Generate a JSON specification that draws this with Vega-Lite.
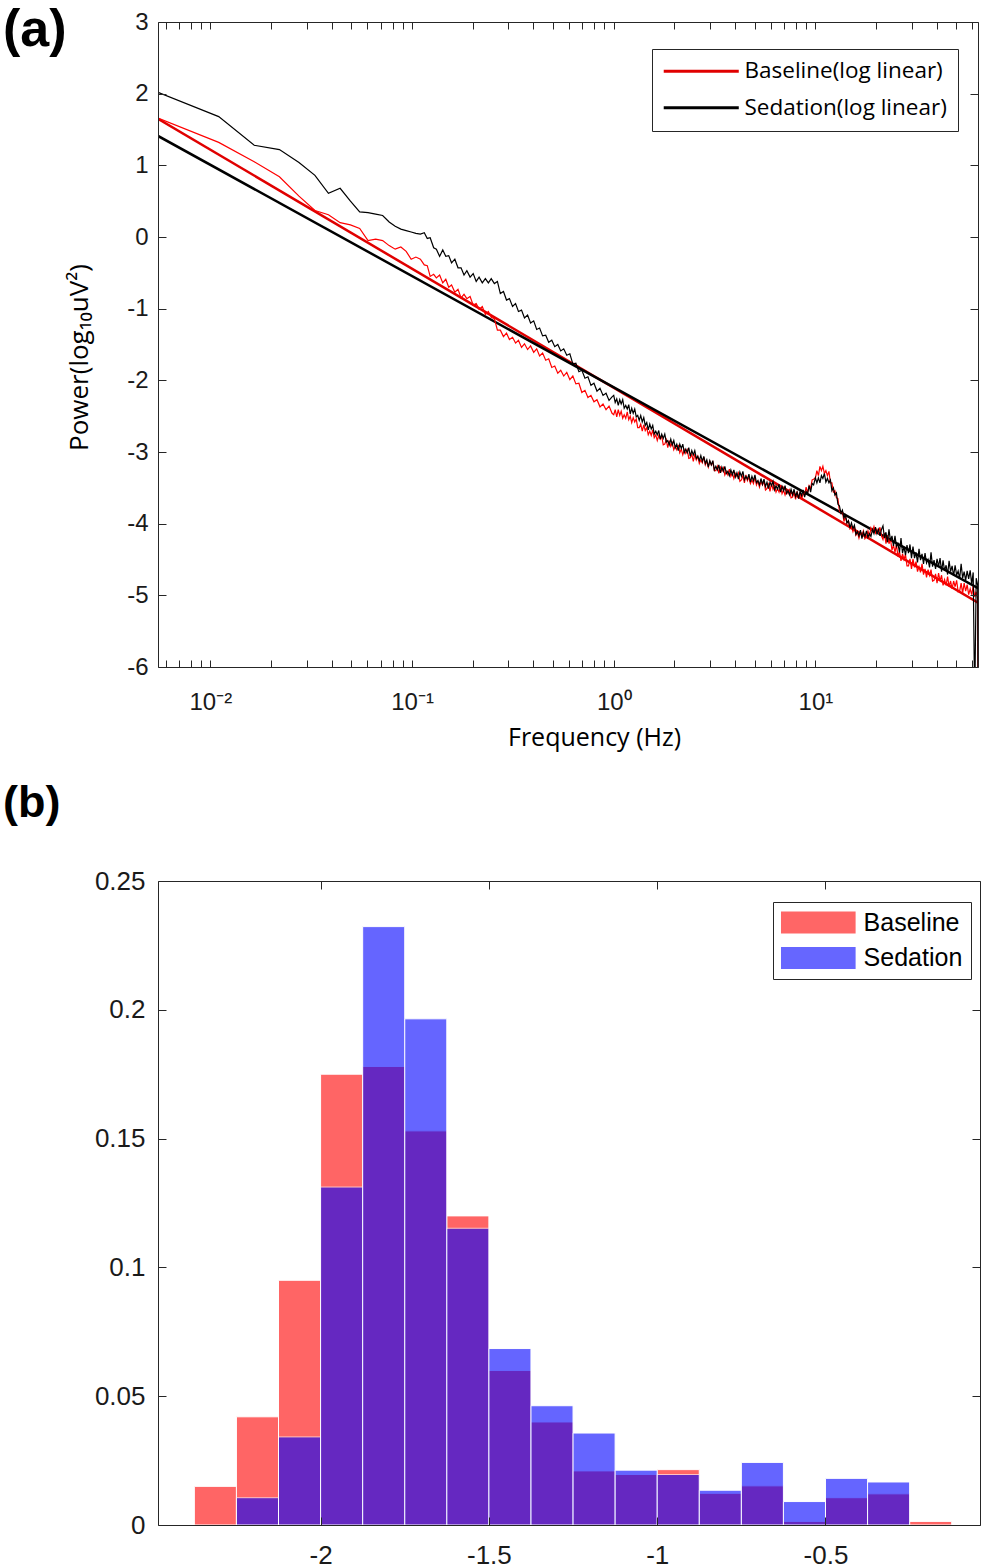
{
"$schema":"https://vega.github.io/schema/vega-lite/v6.json",
"padding":{"left":3,"right":0,"top":4,"bottom":0},
"background":"white",
"spacing":31,
"resolve":{"scale":{"color":"independent"},"legend":{"color":"independent"}},
"config":{"view":{"stroke":null},"axis":{"grid":false,"domainColor":"#262626","tickColor":"#262626","labelColor":"#1a1a1a","titleColor":"#000000","domainWidth":1,"tickWidth":1}},
"datasets":{
"fits":[
{"g":"Baseline(log linear)","f":0.0055,"p":1.649},
{"g":"Baseline(log linear)","f":64,"p":-5.104},
{"g":"Sedation(log linear)","f":0.0055,"p":1.41},
{"g":"Sedation(log linear)","f":64,"p":-4.90}
],
"psd":[
{"f":0.0055,"b":1.66,"s":2.02},{"f":0.011,"b":1.32,"s":1.68},{"f":0.0165,"b":1.05,"s":1.28},{"f":0.022,"b":0.84,"s":1.22},{"f":0.0275,"b":0.57,"s":1.04},{"f":0.033,"b":0.37,"s":0.86},{"f":0.0385,"b":0.31,"s":0.61},{"f":0.044,"b":0.20,"s":0.68},{"f":0.0495,"b":0.17,"s":0.50},{"f":0.055,"b":0.12,"s":0.35},{"f":0.0605,"b":-0.05,"s":0.34},{"f":0.066,"b":-0.03,"s":0.32},{"f":0.0715,"b":-0.05,"s":0.30},{"f":0.077,"b":-0.12,"s":0.21},{"f":0.0825,"b":-0.17,"s":0.15},{"f":0.088,"b":-0.14,"s":0.11},{"f":0.0935,"b":-0.20,"s":0.09},{"f":0.099,"b":-0.31,"s":0.07},{"f":0.1045,"b":-0.28,"s":0.05},{"f":0.11,"b":-0.31,"s":0.04},
{"f":0.115,"b":-0.39,"s":0.06},{"f":0.119,"b":-0.40,"s":-0.02},{"f":0.123,"b":-0.55,"s":-0.01},{"f":0.128,"b":-0.52,"s":-0.15},{"f":0.132,"b":-0.57,"s":-0.17},{"f":0.137,"b":-0.53,"s":-0.27},{"f":0.142,"b":-0.64,"s":-0.18},{"f":0.147,"b":-0.59,"s":-0.27},{"f":0.152,"b":-0.70,"s":-0.26},{"f":0.157,"b":-0.67,"s":-0.36},{"f":0.163,"b":-0.77,"s":-0.31},{"f":0.169,"b":-0.73,"s":-0.43},{"f":0.175,"b":-0.85,"s":-0.43},{"f":0.181,"b":-0.80,"s":-0.53},{"f":0.187,"b":-0.86,"s":-0.47},{"f":0.194,"b":-0.83,"s":-0.56},{"f":0.201,"b":-0.95,"s":-0.51},{"f":0.208,"b":-0.93,"s":-0.62},{"f":0.215,"b":-1.01,"s":-0.56},{"f":0.223,"b":-0.97,"s":-0.64},{"f":0.231,"b":-1.08,"s":-0.58},{"f":0.239,"b":-1.04,"s":-0.64},{"f":0.247,"b":-1.12,"s":-0.58},{"f":0.256,"b":-1.14,"s":-0.65},{"f":0.265,"b":-1.30,"s":-0.62},{"f":0.274,"b":-1.30,"s":-0.79},{"f":0.284,"b":-1.39,"s":-0.76},{"f":0.294,"b":-1.34,"s":-0.88},{"f":0.304,"b":-1.43,"s":-0.86},{"f":0.315,"b":-1.40,"s":-0.97},{"f":0.326,"b":-1.48,"s":-0.93},{"f":0.337,"b":-1.44,"s":-1.04},{"f":0.349,"b":-1.54,"s":-1.02},{"f":0.361,"b":-1.49,"s":-1.13},{"f":0.374,"b":-1.57,"s":-1.09},{"f":0.387,"b":-1.52,"s":-1.20},{"f":0.401,"b":-1.61,"s":-1.17},{"f":0.415,"b":-1.56,"s":-1.29},{"f":0.429,"b":-1.66,"s":-1.27},{"f":0.444,"b":-1.62,"s":-1.38},{"f":0.46,"b":-1.72,"s":-1.37},{"f":0.476,"b":-1.70,"s":-1.47},{"f":0.493,"b":-1.82,"s":-1.44},{"f":0.51,"b":-1.80,"s":-1.53},{"f":0.528,"b":-1.90,"s":-1.50},{"f":0.546,"b":-1.86,"s":-1.59},{"f":0.565,"b":-1.94,"s":-1.56},{"f":0.585,"b":-1.89,"s":-1.65},{"f":0.606,"b":-1.99,"s":-1.63},{"f":0.627,"b":-1.94,"s":-1.77},{"f":0.649,"b":-2.05,"s":-1.76},{"f":0.672,"b":-2.04,"s":-1.88},{"f":0.695,"b":-2.17,"s":-1.86},{"f":0.72,"b":-2.14,"s":-1.97},{"f":0.745,"b":-2.24,"s":-1.95},{"f":0.771,"b":-2.21,"s":-2.07},{"f":0.798,"b":-2.30,"s":-2.04},{"f":0.826,"b":-2.27,"s":-2.15},{"f":0.855,"b":-2.37,"s":-2.11},{"f":0.885,"b":-2.33,"s":-2.21},{"f":0.916,"b":-2.41,"s":-2.18},{"f":0.948,"b":-2.36,"s":-2.28},{"f":0.981,"b":-2.46,"s":-2.23},
{"f":1.000,"b":-2.48,"s":-2.21},{"f":1.017,"b":-2.41,"s":-2.31},{"f":1.035,"b":-2.51,"s":-2.26},{"f":1.053,"b":-2.41,"s":-2.35},{"f":1.071,"b":-2.49,"s":-2.27},{"f":1.089,"b":-2.43,"s":-2.33},{"f":1.108,"b":-2.53,"s":-2.27},{"f":1.127,"b":-2.48,"s":-2.39},{"f":1.147,"b":-2.53,"s":-2.35},{"f":1.167,"b":-2.44,"s":-2.40},{"f":1.187,"b":-2.55,"s":-2.34},{"f":1.207,"b":-2.50,"s":-2.47},{"f":1.228,"b":-2.59,"s":-2.39},{"f":1.249,"b":-2.52,"s":-2.46},{"f":1.271,"b":-2.58,"s":-2.40},{"f":1.293,"b":-2.54,"s":-2.51},{"f":1.315,"b":-2.66,"s":-2.49},{"f":1.338,"b":-2.66,"s":-2.56},{"f":1.361,"b":-2.61,"s":-2.49},{"f":1.385,"b":-2.71,"s":-2.58},{"f":1.409,"b":-2.62,"s":-2.52},{"f":1.433,"b":-2.70,"s":-2.63},{"f":1.458,"b":-2.66,"s":-2.59},{"f":1.483,"b":-2.76,"s":-2.69},{"f":1.509,"b":-2.71,"s":-2.61},{"f":1.535,"b":-2.77,"s":-2.68},{"f":1.561,"b":-2.69,"s":-2.63},{"f":1.588,"b":-2.80,"s":-2.75},{"f":1.616,"b":-2.76,"s":-2.71},{"f":1.644,"b":-2.84,"s":-2.76},{"f":1.672,"b":-2.77,"s":-2.70},{"f":1.701,"b":-2.82,"s":-2.82},{"f":1.730,"b":-2.78,"s":-2.75},{"f":1.760,"b":-2.90,"s":-2.81},{"f":1.791,"b":-2.89,"s":-2.75},{"f":1.822,"b":-2.83,"s":-2.86},{"f":1.853,"b":-2.94,"s":-2.84},{"f":1.885,"b":-2.84,"s":-2.90},{"f":1.918,"b":-2.92,"s":-2.82},{"f":1.951,"b":-2.87,"s":-2.90},{"f":1.985,"b":-2.97,"s":-2.84},{"f":2.019,"b":-2.92,"s":-2.94},{"f":2.054,"b":-2.97,"s":-2.89},{"f":2.090,"b":-2.90,"s":-2.98},{"f":2.126,"b":-3.01,"s":-2.89},{"f":2.163,"b":-2.96,"s":-2.95},{"f":2.200,"b":-3.04,"s":-2.89},{"f":2.238,"b":-2.97,"s":-3.01},{"f":2.277,"b":-3.02,"s":-2.96},{"f":2.316,"b":-2.97,"s":-3.01},{"f":2.356,"b":-3.09,"s":-2.94},{"f":2.397,"b":-3.08,"s":-3.06},{"f":2.438,"b":-3.03,"s":-2.98},{"f":2.481,"b":-3.13,"s":-3.04},{"f":2.523,"b":-3.03,"s":-2.98},{"f":2.567,"b":-3.11,"s":-3.09},{"f":2.611,"b":-3.06,"s":-3.06},{"f":2.657,"b":-3.16,"s":-3.12},{"f":2.703,"b":-3.11,"s":-3.05},{"f":2.749,"b":-3.15,"s":-3.13},{"f":2.797,"b":-3.07,"s":-3.06},{"f":2.845,"b":-3.18,"s":-3.16},{"f":2.894,"b":-3.13,"s":-3.11},{"f":2.944,"b":-3.21,"s":-3.21},{"f":2.995,"b":-3.13,"s":-3.12},{"f":3.047,"b":-3.18,"s":-3.18},{"f":3.100,"b":-3.14,"s":-3.12},{"f":3.154,"b":-3.26,"s":-3.25},{"f":3.208,"b":-3.26,"s":-3.20},{"f":3.264,"b":-3.20,"s":-3.25},{"f":3.320,"b":-3.30,"s":-3.18},{"f":3.378,"b":-3.20,"s":-3.29},{"f":3.436,"b":-3.27,"s":-3.21},{"f":3.496,"b":-3.22,"s":-3.27},{"f":3.556,"b":-3.32,"s":-3.20},{"f":3.618,"b":-3.27,"s":-3.30},{"f":3.680,"b":-3.32,"s":-3.27},{"f":3.744,"b":-3.24,"s":-3.33},{"f":3.809,"b":-3.34,"s":-3.25},{"f":3.875,"b":-3.29,"s":-3.32},{"f":3.942,"b":-3.37,"s":-3.25},{"f":4.010,"b":-3.30,"s":-3.35},{"f":4.080,"b":-3.34,"s":-3.29},{"f":4.150,"b":-3.29,"s":-3.38},{"f":4.222,"b":-3.41,"s":-3.28},{"f":4.295,"b":-3.39,"s":-3.34},{"f":4.370,"b":-3.33,"s":-3.27},{"f":4.446,"b":-3.43,"s":-3.39},{"f":4.523,"b":-3.32,"s":-3.34},{"f":4.601,"b":-3.40,"s":-3.38},{"f":4.681,"b":-3.35,"s":-3.31},{"f":4.762,"b":-3.44,"s":-3.42},{"f":4.845,"b":-3.39,"s":-3.34},{"f":4.929,"b":-3.44,"s":-3.40},{"f":5.014,"b":-3.35,"s":-3.32},{"f":5.101,"b":-3.46,"s":-3.43},{"f":5.189,"b":-3.41,"s":-3.40},{"f":5.279,"b":-3.49,"s":-3.46},{"f":5.371,"b":-3.41,"s":-3.37},{"f":5.464,"b":-3.46,"s":-3.45},{"f":5.559,"b":-3.41,"s":-3.38},{"f":5.655,"b":-3.53,"s":-3.48},{"f":5.753,"b":-3.51,"s":-3.42},{"f":5.853,"b":-3.45,"s":-3.51},{"f":5.954,"b":-3.55,"s":-3.42},{"f":6.058,"b":-3.44,"s":-3.47},{"f":6.163,"b":-3.52,"s":-3.41},{"f":6.270,"b":-3.47,"s":-3.53},{"f":6.378,"b":-3.56,"s":-3.47},{"f":6.489,"b":-3.51,"s":-3.52},{"f":6.601,"b":-3.56,"s":-3.45},{"f":6.716,"b":-3.47,"s":-3.56},{"f":6.832,"b":-3.58,"s":-3.48},{"f":6.950,"b":-3.53,"s":-3.54},{"f":7.071,"b":-3.60,"s":-3.47},{"f":7.193,"b":-3.53,"s":-3.58},{"f":7.318,"b":-3.58,"s":-3.54},{"f":7.444,"b":-3.53,"s":-3.60},{"f":7.573,"b":-3.64,"s":-3.52},{"f":7.705,"b":-3.63,"s":-3.60},{"f":7.838,"b":-3.56,"s":-3.52},{"f":7.974,"b":-3.66,"s":-3.62},{"f":8.112,"b":-3.55,"s":-3.56},{"f":8.252,"b":-3.63,"s":-3.65},{"f":8.395,"b":-3.57,"s":-3.55},{"f":8.541,"b":-3.66,"s":-3.61},{"f":8.689,"b":-3.58,"s":-3.53},{"f":8.839,"b":-3.60,"s":-3.63},{"f":8.992,"b":-3.49,"s":-3.55},{"f":9.148,"b":-3.57,"s":-3.58},{"f":9.306,"b":-3.47,"s":-3.47},{"f":9.467,"b":-3.51,"s":-3.56},{"f":9.631,"b":-3.39,"s":-3.44},{"f":9.798,"b":-3.38,"s":-3.46},
{"f":10.00,"b":-3.36,"s":-3.36},{"f":10.17,"b":-3.26,"s":-3.43},{"f":10.35,"b":-3.33,"s":-3.36},{"f":10.53,"b":-3.20,"s":-3.43},{"f":10.71,"b":-3.26,"s":-3.33},{"f":10.89,"b":-3.20,"s":-3.37},{"f":11.08,"b":-3.30,"s":-3.30},{"f":11.27,"b":-3.26,"s":-3.42},{"f":11.47,"b":-3.33,"s":-3.37},{"f":11.67,"b":-3.27,"s":-3.43},{"f":11.87,"b":-3.43,"s":-3.39},{"f":12.07,"b":-3.43,"s":-3.54},{"f":12.28,"b":-3.56,"s":-3.50},{"f":12.49,"b":-3.54,"s":-3.60},{"f":12.71,"b":-3.64,"s":-3.57},{"f":12.93,"b":-3.65,"s":-3.73},{"f":13.15,"b":-3.82,"s":-3.75},{"f":13.38,"b":-3.85,"s":-3.85},{"f":13.61,"b":-3.83,"s":-3.81},{"f":13.85,"b":-3.97,"s":-3.92},{"f":14.09,"b":-3.90,"s":-3.88},{"f":14.33,"b":-3.99,"s":-3.99},{"f":14.58,"b":-3.96,"s":-3.96},{"f":14.83,"b":-4.07,"s":-4.06},{"f":15.09,"b":-4.04,"s":-3.99},{"f":15.35,"b":-4.11,"s":-4.07},{"f":15.61,"b":-4.04,"s":-4.02},{"f":15.88,"b":-4.16,"s":-4.15},{"f":16.16,"b":-4.12,"s":-4.11},{"f":16.44,"b":-4.20,"s":-4.17},{"f":16.72,"b":-4.12,"s":-4.09},{"f":17.01,"b":-4.16,"s":-4.21},{"f":17.30,"b":-4.10,"s":-4.12},{"f":17.60,"b":-4.21,"s":-4.18},{"f":17.91,"b":-4.18,"s":-4.10},{"f":18.22,"b":-4.10,"s":-4.19},{"f":18.53,"b":-4.18,"s":-4.14},{"f":18.85,"b":-4.06,"s":-4.18},{"f":19.18,"b":-4.11,"s":-4.08},{"f":19.51,"b":-4.04,"s":-4.14},{"f":19.85,"b":-4.13,"s":-4.05},{"f":20.19,"b":-4.08,"s":-4.14},{"f":20.54,"b":-4.13,"s":-4.08},{"f":20.90,"b":-4.05,"s":-4.17},{"f":21.26,"b":-4.17,"s":-4.08},{"f":21.63,"b":-4.22,"s":-4.03},{"f":22.00,"b":-4.13,"s":-4.20},{"f":22.38,"b":-4.28,"s":-4.12},{"f":22.77,"b":-4.16,"s":-4.26},{"f":23.16,"b":-4.28,"s":-4.08},{"f":23.56,"b":-4.21,"s":-4.24},{"f":23.97,"b":-4.37,"s":-4.17},{"f":24.38,"b":-4.30,"s":-4.31},{"f":24.81,"b":-4.40,"s":-4.17},{"f":25.23,"b":-4.29,"s":-4.32},{"f":25.67,"b":-4.46,"s":-4.28},{"f":26.11,"b":-4.39,"s":-4.40},{"f":26.57,"b":-4.52,"s":-4.20},{"f":27.03,"b":-4.42,"s":-4.41},{"f":27.49,"b":-4.50,"s":-4.32},{"f":27.97,"b":-4.43,"s":-4.44},{"f":28.45,"b":-4.59,"s":-4.30},{"f":28.94,"b":-4.59,"s":-4.41},{"f":29.44,"b":-4.49,"s":-4.29},{"f":29.95,"b":-4.63,"s":-4.48},{"f":30.47,"b":-4.49,"s":-4.32},{"f":31.00,"b":-4.61,"s":-4.48},{"f":31.54,"b":-4.53,"s":-4.40},{"f":32.08,"b":-4.67,"s":-4.54},{"f":32.64,"b":-4.60,"s":-4.35},{"f":33.20,"b":-4.68,"s":-4.51},{"f":33.78,"b":-4.56,"s":-4.42},{"f":34.36,"b":-4.71,"s":-4.56},{"f":34.96,"b":-4.63,"s":-4.41},{"f":35.56,"b":-4.75,"s":-4.55},{"f":36.18,"b":-4.64,"s":-4.50},{"f":36.80,"b":-4.72,"s":-4.61},{"f":37.44,"b":-4.64,"s":-4.40},{"f":38.09,"b":-4.80,"s":-4.60},{"f":38.75,"b":-4.79,"s":-4.51},{"f":39.42,"b":-4.70,"s":-4.63},{"f":40.10,"b":-4.83,"s":-4.49},{"f":40.80,"b":-4.69,"s":-4.60},{"f":41.50,"b":-4.80,"s":-4.48},{"f":42.22,"b":-4.72,"s":-4.67},{"f":42.95,"b":-4.86,"s":-4.51},{"f":43.70,"b":-4.78,"s":-4.66},{"f":44.46,"b":-4.86,"s":-4.58},{"f":45.23,"b":-4.74,"s":-4.71},{"f":46.01,"b":-4.88,"s":-4.52},{"f":46.81,"b":-4.80,"s":-4.67},{"f":47.62,"b":-4.91,"s":-4.59},{"f":48.45,"b":-4.80,"s":-4.73},{"f":49.29,"b":-4.88,"s":-4.58},{"f":50.14,"b":-4.79,"s":-4.72},{"f":51.01,"b":-4.95,"s":-4.66},{"f":51.89,"b":-4.94,"s":-4.77},{"f":52.79,"b":-4.83,"s":-4.56},{"f":53.71,"b":-4.97,"s":-4.76},{"f":54.64,"b":-4.83,"s":-4.67},{"f":55.59,"b":-4.94,"s":-4.79},{"f":56.55,"b":-4.85,"s":-4.66},{"f":57.53,"b":-4.99,"s":-4.77},{"f":58.53,"b":-4.91,"s":-4.65},{"f":59.54,"b":-4.99,"s":-4.84},{"f":60.58,"b":-4.87,"s":-4.68},{"f":61.63,"b":-5.02,"s":-6.5},{"f":62.70,"b":-4.95,"s":-4.76},{"f":63.78,"b":-5.05,"s":-4.86},{"f":64.0,"b":-6.5,"s":-6.5}
],
"histB":[
{"g":"Baseline","lo":-2.375,"hi":-2.25,"p":0.015},{"g":"Baseline","lo":-2.25,"hi":-2.125,"p":0.042},{"g":"Baseline","lo":-2.125,"hi":-2.0,"p":0.095},{"g":"Baseline","lo":-2.0,"hi":-1.875,"p":0.175},{"g":"Baseline","lo":-1.875,"hi":-1.75,"p":0.178},{"g":"Baseline","lo":-1.75,"hi":-1.625,"p":0.153},{"g":"Baseline","lo":-1.625,"hi":-1.5,"p":0.120},{"g":"Baseline","lo":-1.5,"hi":-1.375,"p":0.060},{"g":"Baseline","lo":-1.375,"hi":-1.25,"p":0.040},{"g":"Baseline","lo":-1.25,"hi":-1.125,"p":0.021},{"g":"Baseline","lo":-1.125,"hi":-1.0,"p":0.0196},{"g":"Baseline","lo":-1.0,"hi":-0.875,"p":0.0215},{"g":"Baseline","lo":-0.875,"hi":-0.75,"p":0.0123},{"g":"Baseline","lo":-0.75,"hi":-0.625,"p":0.0152},{"g":"Baseline","lo":-0.625,"hi":-0.5,"p":0.0014},{"g":"Baseline","lo":-0.5,"hi":-0.375,"p":0.0106},{"g":"Baseline","lo":-0.375,"hi":-0.25,"p":0.0121},{"g":"Baseline","lo":-0.25,"hi":-0.125,"p":0.0014}
],
"histS":[
{"g":"Sedation","lo":-2.25,"hi":-2.125,"p":0.0106},{"g":"Sedation","lo":-2.125,"hi":-2.0,"p":0.0342},{"g":"Sedation","lo":-2.0,"hi":-1.875,"p":0.1312},{"g":"Sedation","lo":-1.875,"hi":-1.75,"p":0.2323},{"g":"Sedation","lo":-1.75,"hi":-1.625,"p":0.1965},{"g":"Sedation","lo":-1.625,"hi":-1.5,"p":0.1152},{"g":"Sedation","lo":-1.5,"hi":-1.375,"p":0.0685},{"g":"Sedation","lo":-1.375,"hi":-1.25,"p":0.0463},{"g":"Sedation","lo":-1.25,"hi":-1.125,"p":0.0357},{"g":"Sedation","lo":-1.125,"hi":-1.0,"p":0.0213},{"g":"Sedation","lo":-1.0,"hi":-0.875,"p":0.0196},{"g":"Sedation","lo":-0.875,"hi":-0.75,"p":0.0135},{"g":"Sedation","lo":-0.75,"hi":-0.625,"p":0.0243},{"g":"Sedation","lo":-0.625,"hi":-0.5,"p":0.0091},{"g":"Sedation","lo":-0.5,"hi":-0.375,"p":0.0181},{"g":"Sedation","lo":-0.375,"hi":-0.25,"p":0.0167}
]
},
"vconcat":[
{
"width":820,"height":645,
"title":{"text":"(a)","anchor":"start","frame":"group","dx":-155,"offset":-47,"font":"Liberation Sans","fontSize":52,"fontWeight":"bold","color":"#000000"},
"layer":[
{
"data":{"name":"fits"},
"mark":{"type":"line","strokeWidth":2.5,"clip":true},
"encoding":{
"x":{"field":"f","type":"quantitative","scale":{"type":"log","domain":[0.0055,64],"nice":false},
"axis":{"orient":"bottom","values":[0.006,0.007,0.008,0.009,0.01,0.02,0.03,0.04,0.05,0.06,0.07,0.08,0.09,0.1,0.2,0.3,0.4,0.5,0.6,0.7,0.8,0.9,1,2,3,4,5,6,7,8,9,10,20,30,40,50,60],
"labelExpr":"datum.value == 0.01 ? '10⁻²' : datum.value == 0.1 ? '10⁻¹' : datum.value == 1 ? '10⁰' : datum.value == 10 ? '10¹' : ''",
"labelOverlap":false,"labelFlush":false,"labelBound":false,"tickSize":-7,"labelPadding":30,"labelFont":"Liberation Sans","labelFontSize":24,"domain":true,"zindex":1,
"title":"Frequency (Hz)","titleFont":"Open Sans","titleFontSize":25,"titleFontWeight":"normal","titleX":436,"titleY":78,"titleBaseline":"alphabetic","titleAlign":"center"}},
"y":{"field":"p","type":"quantitative","scale":{"domain":[-6,3],"nice":false,"zero":false},
"axis":{"orient":"left","values":[-6,-5,-4,-3,-2,-1,0,1,2,3],"labelExpr":"toString(datum.value)","tickSize":-8,"labelPadding":18,"labelFont":"Liberation Sans","labelFontSize":24,"domain":true,"zindex":1,
"title":"Power(log₁₀uV²)","titleFont":"Open Sans","titleFontSize":26,"titleFontWeight":"normal","titleX":-71,"titleY":335,"titleBaseline":"alphabetic","titleAlign":"center","titleAngle":-90}},
"color":{"field":"g","type":"nominal","scale":{"domain":["Baseline(log linear)","Sedation(log linear)"],"range":["#e00000","#000000"]},
"legend":{"orient":"none","legendX":494,"legendY":27,"title":null,"symbolType":"M-8,0H8","symbolSize":88,"symbolStrokeWidth":3,"symbolOffset":27,"labelOffset":32,"labelFont":"Open Sans","labelFontSize":22.5,"labelColor":"#000000","labelLimit":0,"rowPadding":13.5,"padding":11,"strokeColor":"#262626","fillColor":"#ffffff"}}
}
},
{
"data":{"name":"psd"},
"mark":{"type":"line","color":"#ff0000","strokeWidth":1.2,"clip":true},
"encoding":{
"x":{"field":"f","type":"quantitative","axis":{"orient":"top","values":[0.006,0.007,0.008,0.009,0.01,0.02,0.03,0.04,0.05,0.06,0.07,0.08,0.09,0.1,0.2,0.3,0.4,0.5,0.6,0.7,0.8,0.9,1,2,3,4,5,6,7,8,9,10,20,30,40,50,60],"labels":false,"tickSize":-7,"domain":true,"zindex":1,"title":null}},
"y":{"field":"b","type":"quantitative","axis":{"orient":"right","values":[-6,-5,-4,-3,-2,-1,0,1,2,3],"labels":false,"tickSize":-8,"domain":true,"zindex":1,"title":null}}
}
},
{
"data":{"name":"psd"},
"mark":{"type":"line","color":"#000000","strokeWidth":1.2,"clip":true},
"encoding":{
"x":{"field":"f","type":"quantitative","axis":null},
"y":{"field":"s","type":"quantitative","axis":null}
}
}
],
"resolve":{"axis":{"x":"independent","y":"independent"}}
},
{
"width":822,"height":644,
"title":{"text":"(b)","anchor":"start","frame":"group","dx":-155,"offset":42,"font":"Liberation Sans","fontSize":45,"fontWeight":"bold","color":"#000000"},
"layer":[
{
"data":{"name":"histB"},
"mark":{"type":"bar","opacity":0.6,"stroke":"#ffffff","strokeWidth":1},
"encoding":{
"x":{"field":"lo","type":"quantitative","scale":{"domain":[-2.483,-0.041],"nice":false,"zero":false},
"axis":{"orient":"bottom","values":[-2,-1.5,-1,-0.5],"labelExpr":"toString(datum.value)","labelFlush":false,"tickSize":-8,"labelPadding":25,"labelFont":"Liberation Sans","labelFontSize":26,"domain":true,"zindex":1,"title":null}},
"x2":{"field":"hi"},
"y":{"field":"p","type":"quantitative","scale":{"domain":[0,0.25],"nice":false},
"axis":{"orient":"left","values":[0,0.05,0.1,0.15,0.2,0.25],"labelExpr":"toString(datum.value)","tickSize":-8,"labelPadding":21,"labelFont":"Liberation Sans","labelFontSize":26,"domain":true,"zindex":1,"title":null}},
"y2":{"datum":0},
"color":{"field":"g","type":"nominal","scale":{"domain":["Baseline","Sedation"],"range":["#ff0000","#0000ff"]},
"legend":{"orient":"none","legendX":615,"legendY":21,"title":null,"symbolType":"M-8,-2.35H8V2.35H-8Z","symbolSize":87,"symbolStrokeWidth":0,"symbolOffset":24.8,"labelOffset":32.8,"labelFont":"Liberation Sans","labelFontSize":25,"labelColor":"#000000","labelLimit":0,"rowPadding":9.5,"padding":8,"strokeColor":"#262626","fillColor":"#ffffff"}}
}
},
{
"data":{"name":"histS"},
"mark":{"type":"bar","opacity":0.6,"stroke":"#ffffff","strokeWidth":1},
"encoding":{
"x":{"field":"lo","type":"quantitative","axis":{"orient":"top","values":[-2,-1.5,-1,-0.5],"labels":false,"tickSize":-8,"domain":true,"zindex":1,"title":null}},
"x2":{"field":"hi"},
"y":{"field":"p","type":"quantitative","axis":{"orient":"right","values":[0,0.05,0.1,0.15,0.2,0.25],"labels":false,"tickSize":-8,"domain":true,"zindex":1,"title":null}},
"y2":{"datum":0},
"color":{"field":"g","type":"nominal","scale":{"domain":["Baseline","Sedation"],"range":["#ff0000","#0000ff"]}}
}
}
],
"resolve":{"axis":{"x":"independent","y":"independent"}}
}
]
}
